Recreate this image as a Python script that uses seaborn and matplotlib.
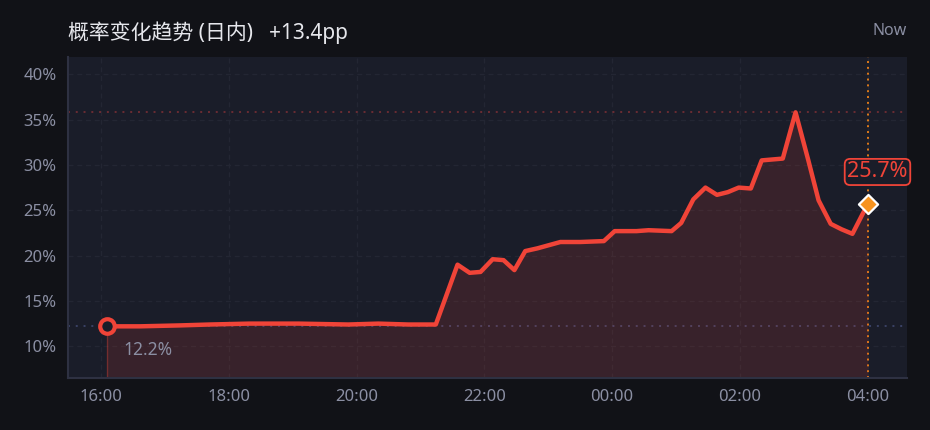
import numpy as np
import pandas as pd
import matplotlib
matplotlib.use("Agg")
import matplotlib.pyplot as plt
import seaborn as sns

# hours since 16:00 and probability (%)
hours = [0.09, 0.61, 1.23, 1.70, 2.32, 3.09, 3.87, 4.34, 4.81, 5.24,
         5.58, 5.77, 5.94, 6.13, 6.30, 6.47, 6.64, 6.83, 7.19, 7.50,
         7.87, 8.04, 8.38, 8.57, 8.93, 9.08, 9.27, 9.46, 9.64, 9.81,
         9.98, 10.17, 10.34, 10.67, 10.87, 11.07, 11.23, 11.42, 11.59, 11.76,
         12.00]
prob = [12.2, 12.2, 12.3, 12.4, 12.5, 12.5, 12.4, 12.5, 12.4, 12.4,
        19.0, 18.1, 18.2, 19.6, 19.5, 18.4, 20.5, 20.8, 21.5, 21.5,
        21.6, 22.7, 22.7, 22.8, 22.7, 23.6, 26.2, 27.5, 26.7, 27.0,
        27.5, 27.4, 30.5, 30.7, 35.8, 30.5, 26.1, 23.5, 22.9, 22.4,
        25.7]
tick_hours = [0, 2, 4, 6, 8, 10, 12]
tick_labels = ["16:00", "18:00", "20:00", "22:00", "00:00", "02:00", "04:00"]
y_ticks = [10, 15, 20, 25, 30, 35, 40]
title = "概率变化趋势 (日内)   +13.4pp"

df = pd.DataFrame({"h": hours, "p": prob})

BG = "#111217"
PANEL = "#1a1d29"
RED = "#f04438"
ORANGE = "#f7931e"
MUTED = "#8b8fa3"

sns.set_theme(style="dark")
plt.rcParams["font.family"] = ["Noto Sans", "Noto Sans CJK SC", "DejaVu Sans"]

fig = plt.figure(figsize=(9.3, 4.3), dpi=100, facecolor=BG)
ax = fig.add_axes([0.0731, 0.1209, 0.9019, 0.7465])
ax.set_facecolor(PANEL)

y_lo, y_hi = 6.5, 41.9
ax.set_xlim(-0.516, 12.61)
ax.set_ylim(y_lo, y_hi)

# grid
for t in tick_hours:
    ax.axvline(t, color="#232633", lw=0.9, ls=(0, (4, 3)), zorder=0)
for t in y_ticks:
    ax.axhline(t, color="#232633", lw=0.9, ls=(0, (4, 3)), zorder=0)

# reference lines
ax.axhline(max(prob), color="#6b2c33", lw=1.4, ls=(0, (1, 3)), zorder=1)
ax.axhline(prob[0], color="#3a4265", lw=1.4, ls=(0, (1, 3)), zorder=1)
ax.axvline(hours[-1], color="#e07b1a", lw=1.4, ls=(0, (1, 2)), zorder=1)

# area + line
ax.fill_between(df["h"], df["p"], y_lo, color=RED, alpha=0.14, lw=0, zorder=2)
ax.plot([hours[0], hours[0]], [y_lo, prob[0]], color=RED, alpha=0.35, lw=1, zorder=2)
sns.lineplot(data=df, x="h", y="p", ax=ax, color=RED, lw=3.2, zorder=3)

# start / end markers
ax.scatter([hours[0]], [prob[0]], s=110, facecolor=PANEL, edgecolor=RED,
           linewidth=3, zorder=5)
ax.scatter([hours[-1]], [prob[-1]], marker="D", s=95, facecolor=ORANGE,
           edgecolor="white", linewidth=1.6, zorder=5)

ax.annotate(f"{prob[0]:.1f}%", (hours[0], prob[0]), xytext=(12, -17),
            textcoords="offset points", color=MUTED, fontsize=12.5,
            ha="left", va="center")
ax.annotate(f"{prob[-1]:.1f}%", (hours[-1], prob[-1]), xytext=(7, 23),
            textcoords="offset points", color=RED, fontsize=15.5,
            ha="center", va="center",
            bbox=dict(boxstyle="round,pad=0.12,rounding_size=0.25",
                      fc=PANEL, ec=RED, lw=1.3))

ax.set_xticks(tick_hours)
ax.set_xticklabels(tick_labels)
ax.set_yticks(y_ticks)
ax.set_yticklabels([f"{v}%" for v in y_ticks])
ax.tick_params(colors=MUTED, labelsize=12, length=0, pad=8)
ax.set_xlabel("")
ax.set_ylabel("")
ax.grid(False)
for s in ["top", "right"]:
    ax.spines[s].set_visible(False)
for s in ["left", "bottom"]:
    ax.spines[s].set_color("#2e3142")
    ax.spines[s].set_linewidth(1.5)

fig.text(0.0731, 0.925, title, color="#e6e7ec", fontsize=15, ha="left", va="center")
fig.text(0.975, 0.928, "Now", color=MUTED, fontsize=11.5, ha="right", va="center")

fig.savefig("out.png", dpi=100, facecolor=BG)
